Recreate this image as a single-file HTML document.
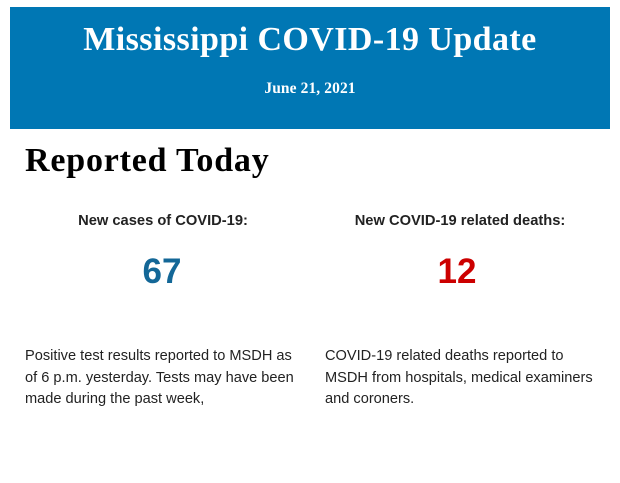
<!DOCTYPE html>
<html>
<head>
<meta charset="utf-8">
<style>
  html, body { margin: 0; padding: 0; background: #ffffff; }
  body { width: 620px; height: 483px; position: relative; overflow: hidden; }
  .banner { position: absolute; left: 10px; top: 7px; width: 600px; height: 122px; background: #0077b4; }
  .t { position: absolute; white-space: nowrap; }
  .serif { font-family: "Liberation Serif", serif; font-weight: bold; }
  .sans { font-family: "Liberation Sans", Arial, sans-serif; }
  .title { left: 10px; width: 600px; top: 23px; text-align: center; font-size: 34px; line-height: 34px; color: #fff; letter-spacing: 0.42px; }
  .date { left: 10px; width: 600px; top: 81px; text-align: center; font-size: 15.5px; line-height: 16px; color: #fff; letter-spacing: 0.1px; }
  .rep { left: 25px; top: 144px; font-size: 34px; line-height: 34px; color: #000; letter-spacing: 0.8px; }
  .hdr { font-weight: bold; font-size: 14.7px; line-height: 16px; color: #222; text-align: center; width: 320px; top: 213.4px; }
  .num { font-weight: bold; font-size: 35px; line-height: 35px; text-align: center; width: 200px; top: 253.7px; }
  .body { font-size: 14.6px; line-height: 21.6px; color: #222; top: 346px; }
</style>
</head>
<body>
  <div class="banner"></div>
  <div class="t serif title">Mississippi COVID-19 Update</div>
  <div class="t serif date">June 21, 2021</div>

  <div class="t serif rep">Reported Today</div>

  <div class="t sans hdr" style="left:3px;">New cases of COVID-19:</div>
  <div class="t sans hdr" style="left:300px;">New COVID-19 related deaths:</div>

  <div class="t sans num" style="left:62px; color:#136797;">67</div>
  <div class="t sans num" style="left:357px; color:#cc0000;">12</div>

  <div class="t sans body" style="left:25px;">Positive test results reported to MSDH as<br>of 6 p.m. yesterday. Tests may have been<br>made during the past week,</div>
  <div class="t sans body" style="left:325px;">COVID-19 related deaths reported to<br>MSDH from hospitals, medical examiners<br>and coroners.</div>
</body>
</html>
